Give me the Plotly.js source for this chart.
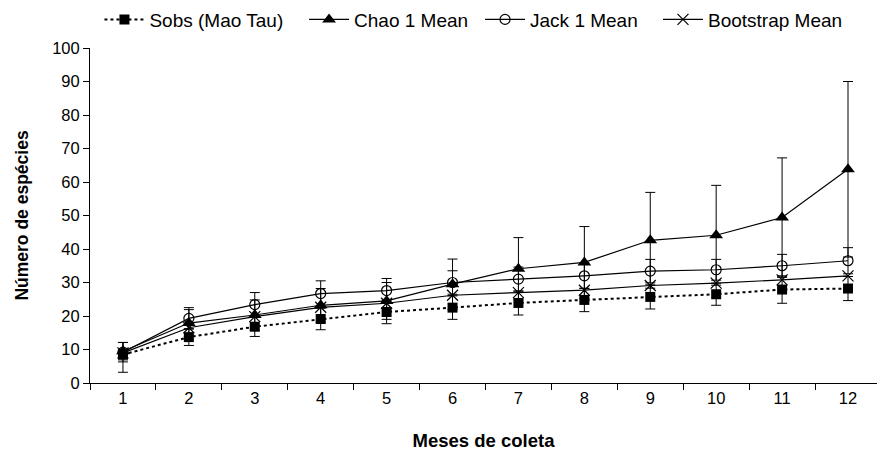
<!DOCTYPE html>
<html>
<head>
<meta charset="utf-8">
<script src="https://cdn.plot.ly/plotly-3.0.1.min.js"></script>
<style>html,body{margin:0;padding:0;background:#fff;}#chart{width:877px;height:453px;}</style>
</head>
<body>
<div id="chart"></div>
<script>
var months = ['1','2','3','4','5','6','7','8','9','10','11','12'];

var sobs = [8.5, 13.7, 16.8, 19.1, 21.2, 22.5, 23.9, 24.8, 25.7, 26.5, 27.9, 28.2];
var sobsErrMinus = [5.3, 2.5, 2.9, 3.2, 3.5, 3.5, 3.6, 3.5, 3.6, 3.3, 4.1, 3.6];
var sobsErrPlus = [3.6, 2.5, 2.9, 3.2, 3.5, 3.5, 3.6, 3.5, 3.6, 3.3, 4.1, 3.6];

var chao = [9.5, 17.9, 20.3, 23.2, 24.5, 29.5, 34.1, 36.0, 42.6, 44.1, 49.4, 63.8];
var chaoErr = [2.6, 4.0, 4.5, 5.0, 5.5, 7.5, 9.3, 10.7, 14.3, 14.9, 17.8, 26.2];

var jack = [9.2, 19.3, 23.4, 26.7, 27.6, 30.0, 31.0, 32.0, 33.4, 33.8, 35.0, 36.5];
var jackErr = [2.9, 3.2, 3.6, 3.8, 3.6, 3.5, 3.6, 3.8, 3.5, 3.1, 3.4, 3.9];

var boot = [9.0, 16.5, 19.8, 22.6, 23.8, 26.2, 27.0, 27.7, 29.1, 29.8, 30.8, 32.0];

var seriesNames = ['Sobs (Mao Tau)', 'Chao 1 Mean', 'Jack 1 Mean', 'Bootstrap Mean'];

var errStyle = {color: '#000', thickness: 1, width: 5};

var traces = [
  {
    x: months, y: sobs, name: seriesNames[0], type: 'scatter', mode: 'lines+markers', legend: 'legend',
    line: {color: '#000', width: 2, dash: 'dot'},
    marker: {symbol: 'square', size: 10, color: '#000'},
    error_y: Object.assign({type: 'data', symmetric: false, array: sobsErrPlus, arrayminus: sobsErrMinus, visible: true}, errStyle)
  },
  {
    x: months, y: chao, name: seriesNames[1], type: 'scatter', mode: 'lines+markers', legend: 'legend2',
    line: {color: '#000', width: 1.2},
    marker: {symbol: 'triangle-up', size: 12, color: '#000'},
    error_y: Object.assign({type: 'data', array: chaoErr, visible: true}, errStyle)
  },
  {
    x: months, y: jack, name: seriesNames[2], type: 'scatter', mode: 'lines+markers', legend: 'legend3',
    line: {color: '#000', width: 1.2},
    marker: {symbol: 'circle-open', size: 10, color: '#000', line: {width: 1.2, color: '#000'}},
    error_y: Object.assign({type: 'data', array: jackErr, visible: true}, errStyle)
  },
  {
    x: months, y: boot, name: seriesNames[3], type: 'scatter', mode: 'lines+markers', legend: 'legend4',
    line: {color: '#000', width: 1.2},
    marker: {symbol: 'x-thin-open', size: 11, color: '#000', line: {width: 1.2, color: '#000'}}
  }
];

function leg(x) {
  return {orientation: 'h', x: x, xanchor: 'left', y: 1.085, yanchor: 'middle',
          font: {size: 19, color: '#000'}, itemwidth: 40, bgcolor: 'rgba(0,0,0,0)'};
}

var layout = {
  width: 877, height: 453,
  margin: {l: 90, r: 0, t: 32, b: 70},
  paper_bgcolor: '#fff', plot_bgcolor: '#fff',
  font: {family: 'Liberation Sans, Arial, sans-serif', size: 16, color: '#000'},
  showlegend: true,
  legend: leg(0.012),
  legend2: leg(0.272),
  legend3: leg(0.4956),
  legend4: leg(0.7217),
  xaxis: {
    type: 'category', range: [-0.5, 11.44], tickson: 'boundaries',
    ticks: 'outside', ticklen: 6, tickcolor: '#000', tickwidth: 1,
    showline: true, linecolor: '#000', linewidth: 1, showgrid: false, zeroline: false,
    tickfont: {size: 16.5},
    title: {text: '<b>Meses de coleta</b>', font: {size: 18.5}, standoff: 28}
  },
  yaxis: {
    range: [0, 100], dtick: 10, ticks: 'outside', ticklen: 6, tickcolor: '#000', tickwidth: 1,
    showline: true, linecolor: '#000', linewidth: 1, showgrid: false, zeroline: false,
    tickfont: {size: 16.5},
    title: {text: '<b>Número de espécies</b>', font: {size: 17.5}, standoff: 19}
  }
};

Plotly.newPlot('chart', traces, layout, {displayModeBar: false, staticPlot: true});
</script>
</body>
</html>
